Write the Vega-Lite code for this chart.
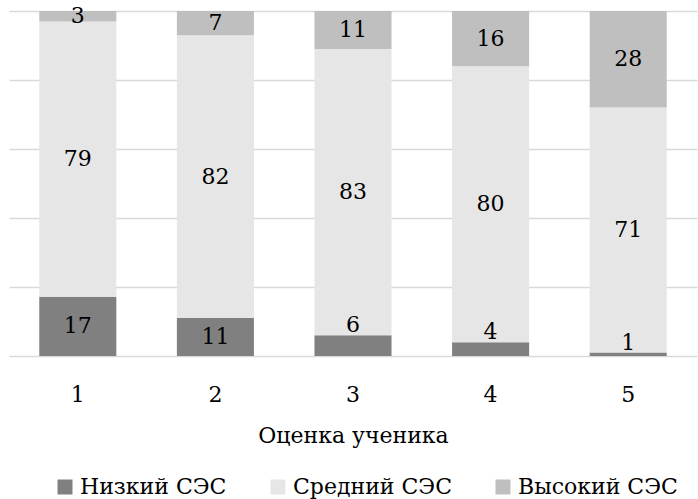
{
  "$schema": "https://vega.github.io/schema/vega-lite/v6.json",
  "width": 688,
  "height": 345,
  "autosize": {"type": "none"},
  "padding": {"left": 9, "top": 11, "right": 1, "bottom": 143},
  "background": "white",
  "config": {
    "font": "DejaVu Serif",
    "view": {"stroke": null},
    "text": {"font": "DejaVu Serif"}
  },
  "data": {
    "values": [
      {"grade": "1", "ses": "Низкий СЭС", "value": 17},
      {"grade": "1", "ses": "Средний СЭС", "value": 79},
      {"grade": "1", "ses": "Высокий СЭС", "value": 3},
      {"grade": "2", "ses": "Низкий СЭС", "value": 11},
      {"grade": "2", "ses": "Средний СЭС", "value": 82},
      {"grade": "2", "ses": "Высокий СЭС", "value": 7},
      {"grade": "3", "ses": "Низкий СЭС", "value": 6},
      {"grade": "3", "ses": "Средний СЭС", "value": 83},
      {"grade": "3", "ses": "Высокий СЭС", "value": 11},
      {"grade": "4", "ses": "Низкий СЭС", "value": 4},
      {"grade": "4", "ses": "Средний СЭС", "value": 80},
      {"grade": "4", "ses": "Высокий СЭС", "value": 16},
      {"grade": "5", "ses": "Низкий СЭС", "value": 1},
      {"grade": "5", "ses": "Средний СЭС", "value": 71},
      {"grade": "5", "ses": "Высокий СЭС", "value": 28}
    ]
  },
  "transform": [
    {"calculate": "indexof(['Низкий СЭС','Средний СЭС','Высокий СЭС'], datum.ses)", "as": "stackOrder"},
    {"stack": "value", "groupby": ["grade"], "sort": [{"field": "stackOrder", "order": "ascending"}], "offset": "normalize", "as": ["y0", "y1"]},
    {"calculate": "(datum.y0 + datum.y1) / 2", "as": "mid"},
    {"calculate": "datum.stackOrder == 0 && datum.value < 8", "as": "small"}
  ],
  "encoding": {
    "x": {
      "field": "grade",
      "type": "nominal",
      "scale": {"paddingInner": 0.44, "paddingOuter": 0.22},
      "axis": {
        "labelAngle": 0,
        "domain": false,
        "ticks": false,
        "labelFont": "DejaVu Serif",
        "labelFontSize": 22,
        "labelColor": "#000000",
        "labelPadding": 28,
        "title": "Оценка ученика",
        "titleFont": "DejaVu Serif",
        "titleFontSize": 22,
        "titleFontWeight": "normal",
        "titleColor": "#000000",
        "titlePadding": 20
      }
    }
  },
  "layer": [
    {
      "mark": {"type": "bar"},
      "encoding": {
        "y": {
          "field": "y0",
          "type": "quantitative",
          "scale": {"domain": [0, 1], "nice": false},
          "axis": {
            "values": [0, 0.2, 0.4, 0.6, 0.8, 1],
            "labels": false,
            "ticks": false,
            "domain": false,
            "title": null,
            "grid": true,
            "gridColor": "#d9d9d9",
            "gridWidth": 1.5
          }
        },
        "y2": {"field": "y1"},
        "color": {
          "field": "ses",
          "type": "nominal",
          "scale": {
            "domain": ["Низкий СЭС", "Средний СЭС", "Высокий СЭС"],
            "range": ["#808080", "#e6e6e6", "#bfbfbf"]
          },
          "legend": {
            "title": null,
            "orient": "none",
            "direction": "horizontal",
            "legendX": 45,
            "legendY": 465,
            "symbolType": "square",
            "symbolSize": 225,
            "symbolStrokeWidth": 0,
            "symbolOpacity": 1,
            "labelFont": "DejaVu Serif",
            "labelFontSize": 22,
            "labelColor": "#000000",
            "labelOffset": 4,
            "columnPadding": 40,
            "labelLimit": 300
          }
        }
      }
    },
    {
      "transform": [{"filter": "!datum.small"}],
      "mark": {"type": "text", "font": "DejaVu Serif", "fontSize": 22, "color": "#000000", "baseline": "middle"},
      "encoding": {
        "y": {"field": "mid", "type": "quantitative"},
        "text": {"field": "value", "type": "quantitative"}
      }
    },
    {
      "transform": [{"filter": "datum.small"}],
      "mark": {"type": "text", "font": "DejaVu Serif", "fontSize": 22, "color": "#000000", "baseline": "bottom", "dy": 2},
      "encoding": {
        "y": {"field": "y1", "type": "quantitative"},
        "text": {"field": "value", "type": "quantitative"}
      }
    }
  ]
}
